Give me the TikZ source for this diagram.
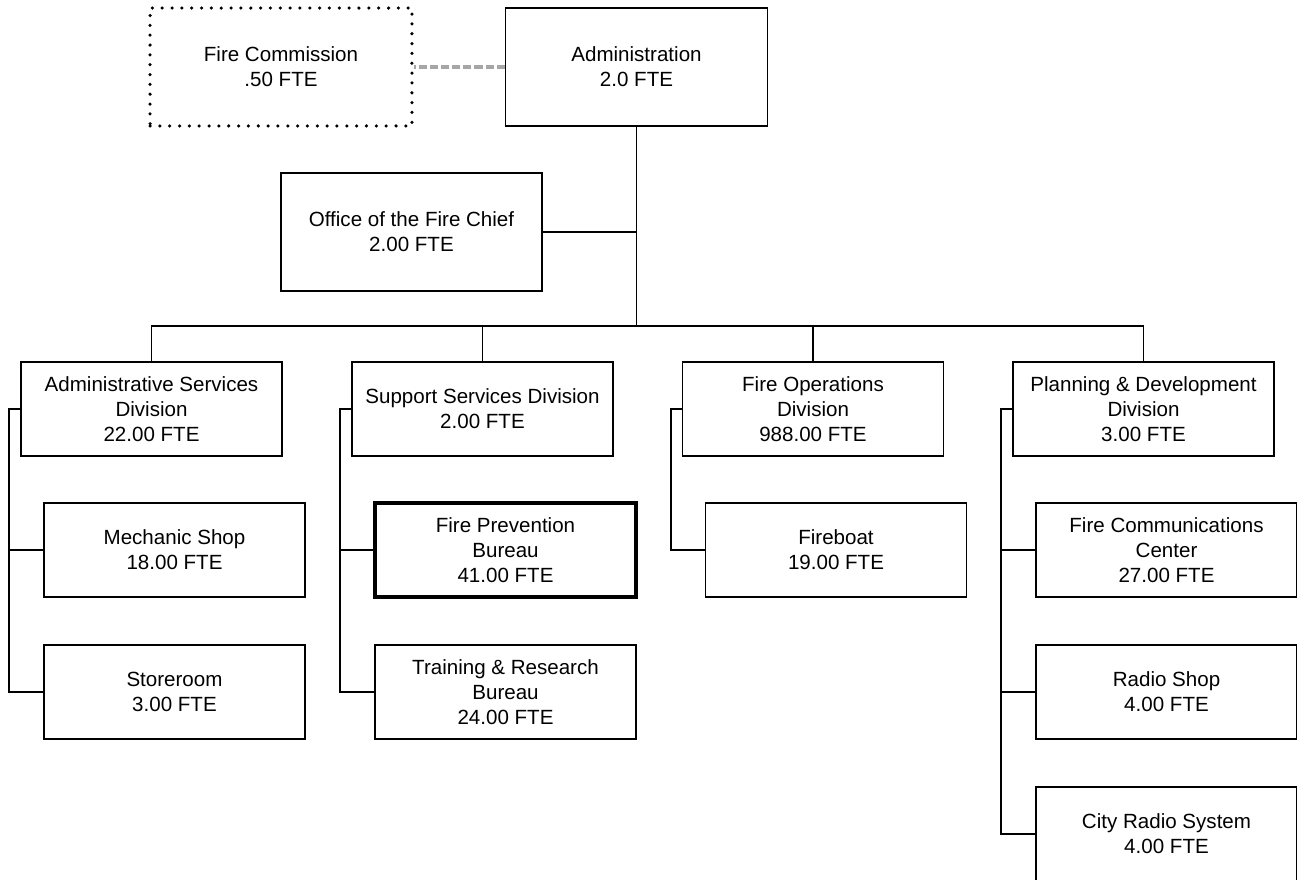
\documentclass[tikz,border=0pt]{standalone}
\usepackage{fontspec}
\setmainfont{Liberation Sans}

\tikzset{
  unitbox/.style={draw, line width=0.95pt, minimum width=5.22cm,
    minimum height=1.88cm, align=center, inner sep=0pt,
    font=\fontsize{11.7pt}{14.2pt}\selectfont},
  topbox/.style={unitbox, minimum width=5.24cm, minimum height=2.36cm},
  dotbox/.style={topbox, dash pattern=on 0pt off 5.6pt, line cap=round,
    line width=2pt},
  boldbox/.style={unitbox, line width=1.8pt},
  link/.style={line width=0.95pt},
  advisory/.style={line width=1.8pt, color=black!35, dash pattern=on 4.6pt off 1.7pt}
}

\begin{document}
\begin{tikzpicture}[x=0.02cm, y=-0.02cm]
  \useasboundingbox (0,0) rectangle (1297,879);

  % top of the chart
  \node[dotbox] (firecomm) at (281,67) {Fire Commission\\.50 FTE};
  \node[topbox] (admin) at (636.5,67) {Administration\\2.0 FTE};
  \node[topbox, minimum width=5.22cm] (office) at (411.5,232)
    {Office of the Fire Chief\\2.00 FTE};
  \coordinate (bus) at (636.5,326);

  % divisions
  \node[unitbox] (asd) at (151.5,409) {Administrative Services\\Division\\22.00 FTE};
  \node[unitbox] (ssd) at (482.5,409) {Support Services Division\\2.00 FTE};
  \node[unitbox] (fod) at (813,409) {Fire Operations\\Division\\988.00 FTE};
  \node[unitbox] (pdd) at (1143.5,409) {Planning \& Development\\Division\\3.00 FTE};

  % sections
  \node[unitbox] (mech) at (174.5,550) {Mechanic Shop\\18.00 FTE};
  \node[unitbox] (store) at (174.5,692) {Storeroom\\3.00 FTE};
  \node[boldbox] (prev) at (505.5,550) {Fire Prevention\\Bureau\\41.00 FTE};
  \node[unitbox] (train) at (505.5,692) {Training \& Research\\Bureau\\24.00 FTE};
  \node[unitbox] (boat) at (836,550) {Fireboat\\19.00 FTE};
  \node[unitbox] (comm) at (1166.5,550) {Fire Communications\\Center\\27.00 FTE};
  \node[unitbox] (radio) at (1166.5,692) {Radio Shop\\4.00 FTE};
  \node[unitbox] (city) at (1166.5,834) {City Radio System\\4.00 FTE};

  % connectors
  \draw[advisory] (admin.west) -- (firecomm.east);
  \draw[link] (admin.south) -- (bus);
  \draw[link] (office.east) -- (office.east -| admin.south);
  \draw[link] (asd.north) |- (bus) -| (pdd.north);
  \foreach \div in {ssd,fod} {
    \draw[link] (\div.north) |- (bus);
  };
  \foreach \up/\down in {asd/mech,asd/store,ssd/prev,ssd/train,
                         fod/boat,pdd/comm,pdd/radio,pdd/city} {
    \draw[link] (\up.west) -- ++(-11,0) |- (\down.west);
  };
\end{tikzpicture}
\end{document}
